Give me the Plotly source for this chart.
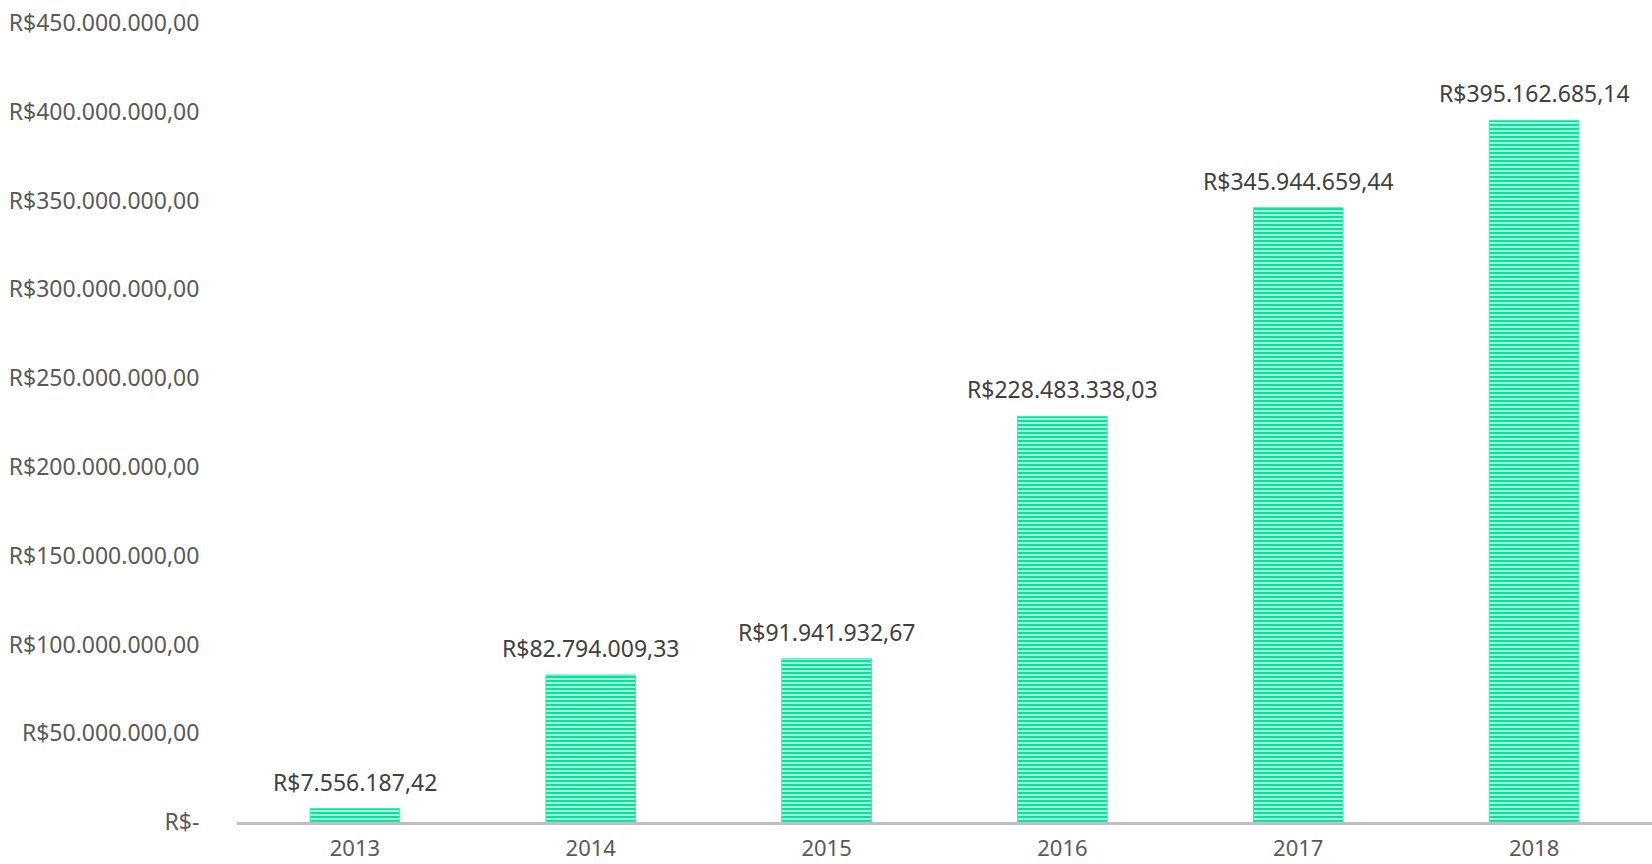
import plotly.graph_objects as go

years = ["2013", "2014", "2015", "2016", "2017", "2018"]
values = [7556187.42, 82794009.33, 91941932.67, 228483338.03, 345944659.44, 395162685.14]
labels = ["R$7.556.187,42", "R$82.794.009,33", "R$91.941.932,67",
          "R$228.483.338,03", "R$345.944.659,44", "R$395.162.685,14"]
tick_vals = [0, 50e6, 100e6, 150e6, 200e6, 250e6, 300e6, 350e6, 400e6, 450e6]
tick_text = ["R$-", "R$50.000.000,00", "R$100.000.000,00", "R$150.000.000,00",
             "R$200.000.000,00", "R$250.000.000,00", "R$300.000.000,00",
             "R$350.000.000,00", "R$400.000.000,00", "R$450.000.000,00"]

FONT = "Noto Sans"
FS = 23

fig = go.Figure(go.Bar(
    x=years, y=values,
    cliponaxis=False,
    marker=dict(
        color="#A6F5DA",
        line=dict(color="#3EE8B0", width=1),
        pattern=dict(shape="-", fgcolor="#00E29E", bgcolor="#A6F5DA",
                     size=4, solidity=0.5, fillmode="replace"),
    ),
    width=0.38,
))

# data labels: category index i on the category axis, value from the data
for i, (v, lab) in enumerate(zip(values, labels)):
    fig.add_annotation(x=i, y=v, xref="x", yref="y", text=lab, showarrow=False,
                       xanchor="center", yanchor="middle", yshift=27,
                       font=dict(family=FONT, size=FS, color="#404040"))

fig.update_layout(
    width=1652, height=864,
    margin=dict(l=237, r=0, t=23, b=42, autoexpand=False),
    paper_bgcolor="white", plot_bgcolor="white",
    showlegend=False,
    font=dict(family=FONT, color="#595959"),
    xaxis=dict(type="category", categoryorder="array", categoryarray=years,
               range=[-0.5, len(years) - 0.5], autorange=False,
               showline=True, linecolor="#BFBFBF", linewidth=3,
               tickfont=dict(family=FONT, size=22, color="#595959"),
               ticks="outside", ticklen=5, tickcolor="rgba(0,0,0,0)",
               showgrid=False, automargin=False, ticklabeloverflow="allow"),
    yaxis=dict(range=[0, 450e6], autorange=False,
               tickvals=tick_vals, ticktext=tick_text,
               tickfont=dict(family=FONT, size=FS, color="#595959"),
               showgrid=False, zeroline=False, ticks="outside",
               ticklen=32, tickcolor="rgba(0,0,0,0)",
               automargin=False, ticklabeloverflow="allow"),
)

fig.write_html("out.html",
               config={"displayModeBar": False},
               post_script="document.body.style.margin='0px';document.body.style.overflow='hidden';")
